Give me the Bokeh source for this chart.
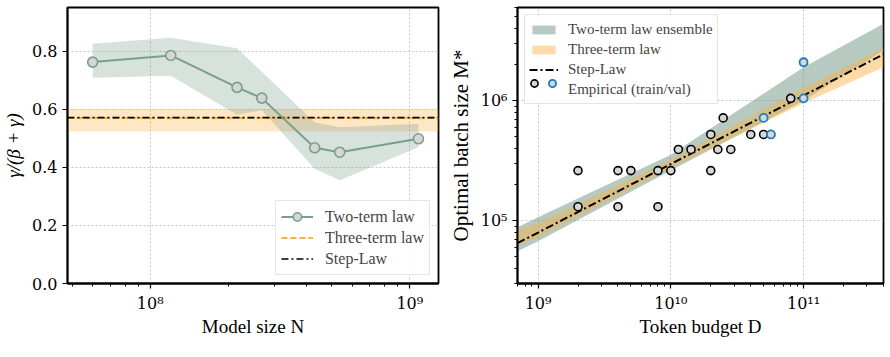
from bokeh.plotting import figure
from bokeh.layouts import row
from bokeh.models import (Range1d, FixedTicker, Legend, LegendItem,
                          CustomJSTickFormatter, PrintfTickFormatter)
from bokeh.embed import file_html
from bokeh.resources import INLINE

FONT = "Liberation Serif"
TICK_FONT = "DejaVu Serif"

# ---- left panel: exponent ratio vs model size ----
model_size = [6.0e7, 1.2e8, 2.16e8, 2.69e8, 4.3e8, 5.37e8, 1.08e9]
ratio_two_term = [0.762, 0.785, 0.675, 0.638, 0.467, 0.452, 0.498]
ratio_two_term_hi = [0.825, 0.846, 0.810, 0.729, 0.555, 0.538, 0.550]
ratio_two_term_lo = [0.708, 0.715, 0.581, 0.596, 0.395, 0.355, 0.469]
ratio_three_term = 0.570
ratio_three_term_hi = 0.601
ratio_three_term_lo = 0.523
ratio_step_law = 0.571
n_limits = [4.8e7, 1.29e9]

# ---- right panel: optimal batch size vs token budget ----
budget_train = [2e9, 2e9, 4e9, 4e9, 5e9, 8e9, 8e9, 1e10, 1.14e10, 1.42e10,
                2e10, 2e10, 2.26e10, 2.48e10, 2.83e10, 4e10, 5e10, 8e10]
batch_train = [262144, 131072, 262144, 131072, 262144, 262144, 131072, 262144,
               393216, 393216, 524288, 262144, 393216, 720896, 393216,
               524288, 524288, 1048576]
budget_val = [5e10, 5.68e10, 1e11, 1e11]
batch_val = [720896, 524288, 2097152, 1048576]

budget_grid = [7e8, 1e9, 1e10, 1e11, 4e11]
step_law_batch = [65200, 79800, 297200, 1107000, 2443000]
three_term_lo = [62400, 72400, 275400, 955000, 1905000]
three_term_hi = [84100, 95500, 323600, 1288000, 2754000]
two_term_lo = [55600, 67600, 263000, 1000000, 2630000]
two_term_hi = [88500, 107000, 355000, 1905000, 4395000]

SAGE = "#7a9e8e"
ORANGE = "#fbb040"
BLUE = "#1b7bc3"
GRAY_FILL = "#d6d6d6"

POW_FMT = CustomJSTickFormatter(code="""
    const sup = {"0":"\u2070","1":"\u00b9","2":"\u00b2","3":"\u00b3","4":"\u2074",
                 "5":"\u2075","6":"\u2076","7":"\u2077","8":"\u2078","9":"\u2079","-":"\u207b"};
    const e = Math.round(Math.log10(tick));
    return "10" + String(e).split("").map(c => sup[c]).join("");
""")


def decade_minors(lo_exp, hi_exp):
    return [k * 10.0 ** e for e in range(lo_exp, hi_exp + 1) for k in range(2, 10)]


def style(p):
    p.outline_line_color = "black"
    p.outline_line_width = 1.8
    p.background_fill_color = "white"
    p.border_fill_color = "white"
    for ax in p.xaxis + p.yaxis:
        ax.axis_line_color = "black"
        ax.axis_line_width = 1.8
        ax.major_tick_in = 0
        ax.major_tick_out = 5
        ax.minor_tick_in = 0
        ax.minor_tick_out = 3
        ax.major_tick_line_width = 1.2
        ax.minor_tick_line_width = 1.0
        ax.major_label_text_font = TICK_FONT
        ax.major_label_text_font_size = "16px"
        ax.major_label_text_color = "black"
        ax.axis_label_text_font = FONT
        ax.axis_label_text_font_size = "19px"
        ax.axis_label_text_font_style = "normal"
        ax.axis_label_text_color = "black"
    for ax in p.xaxis:
        ax.axis_label_standoff = 0
    for g in p.xgrid + p.ygrid:
        g.grid_line_color = "#b8b8b8"
        g.grid_line_dash = "2 2"
        g.grid_line_width = 0.8


# ---------------- left figure ----------------
p1 = figure(width=445, height=357, x_axis_type="log",
            x_range=Range1d(*n_limits), y_range=Range1d(0, 0.95),
            output_backend="svg", toolbar_location=None,
            min_border_left=64, min_border_right=7,
            min_border_top=7, min_border_bottom=74)
p1.xaxis.ticker = FixedTicker(ticks=[1e8, 1e9], minor_ticks=decade_minors(7, 9))
p1.xaxis.formatter = POW_FMT
p1.yaxis.ticker = FixedTicker(ticks=[0.0, 0.2, 0.4, 0.6, 0.8], minor_ticks=[])
p1.yaxis.formatter = PrintfTickFormatter(format="%.1f")
p1.xaxis.axis_label = "Model size N"
p1.yaxis.axis_label = "\u03b3/(\u03b2 + \u03b3)"
style(p1)
p1.yaxis.axis_label_text_font_style = "italic"

p1.varea(x=n_limits, y1=[ratio_three_term_lo] * 2, y2=[ratio_three_term_hi] * 2,
         fill_color=ORANGE, fill_alpha=0.3)
p1.varea(x=model_size, y1=ratio_two_term_lo, y2=ratio_two_term_hi,
         fill_color=SAGE, fill_alpha=0.3)
r_three = p1.line(n_limits, [ratio_three_term] * 2, line_color=ORANGE,
                  line_width=2, line_dash="6 3")
r_step = p1.line(n_limits, [ratio_step_law] * 2, line_color="black",
                 line_width=1.6, line_dash="7 3 2 3")
r_two_line = p1.line(model_size, ratio_two_term, line_color=SAGE, line_width=2)
r_two_pts = p1.scatter(model_size, ratio_two_term, size=10, fill_color=GRAY_FILL,
                       line_color=SAGE, line_width=1.6)

leg1 = Legend(items=[
    LegendItem(label="Two-term law", renderers=[r_two_line, r_two_pts]),
    LegendItem(label="Three-term law", renderers=[r_three]),
    LegendItem(label="Step-Law", renderers=[r_step]),
], location="bottom_right")
leg1.margin = 8
leg1.padding = 5
leg1.spacing = 0
leg1.glyph_width = 32
leg1.glyph_height = 21
leg1.label_height = 21
leg1.label_standoff = 12
leg1.label_text_font = FONT
leg1.label_text_font_size = "16px"
leg1.border_line_color = "#cccccc"
leg1.border_line_width = 1
leg1.background_fill_alpha = 0.85
p1.add_layout(leg1)

# ---------------- right figure ----------------
p2 = figure(width=445, height=357, x_axis_type="log", y_axis_type="log",
            x_range=Range1d(7e8, 4e11), y_range=Range1d(3e4, 6e6),
            output_backend="svg", toolbar_location=None,
            min_border_left=72, min_border_right=7,
            min_border_top=7, min_border_bottom=74)
p2.xaxis.ticker = FixedTicker(ticks=[1e9, 1e10, 1e11], minor_ticks=decade_minors(8, 11))
p2.xaxis.formatter = POW_FMT
p2.yaxis.ticker = FixedTicker(ticks=[1e5, 1e6], minor_ticks=decade_minors(4, 6))
p2.yaxis.formatter = POW_FMT
p2.xaxis.axis_label = "Token budget D"
p2.yaxis.axis_label = "Optimal batch size M*"
style(p2)
p2.yaxis.axis_label_text_font_size = "21px"

r_green = p2.varea(x=budget_grid, y1=two_term_lo, y2=two_term_hi,
                   fill_color=SAGE, fill_alpha=0.55)
r_orange = p2.varea(x=budget_grid, y1=three_term_lo, y2=three_term_hi,
                    fill_color=ORANGE, fill_alpha=0.45)
r_step2 = p2.line(budget_grid, step_law_batch, line_color="black",
                  line_width=2, line_dash="8 3 2 3")
r_train = p2.scatter(budget_train, batch_train, size=8, fill_color=GRAY_FILL,
                     line_color="black", line_width=1.6)
r_val = p2.scatter(budget_val, batch_val, size=8, fill_color=GRAY_FILL,
                   line_color=BLUE, line_width=1.8)
r_blank = p2.scatter(x=[], y=[], size=1, fill_alpha=0, line_alpha=0)

leg2 = Legend(items=[
    LegendItem(label="Two-term law ensemble", renderers=[r_green]),
    LegendItem(label="Three-term law", renderers=[r_orange]),
    LegendItem(label="Step-Law", renderers=[r_step2]),
    LegendItem(label="Empirical (train/val)", renderers=[r_blank]),
], location="top_left")
leg2.margin = 7
leg2.padding = 4
leg2.spacing = 0
leg2.glyph_width = 29
leg2.glyph_height = 11
leg2.label_height = 20
leg2.label_standoff = 10
leg2.label_text_font = FONT
leg2.label_text_font_size = "15px"
leg2.border_line_color = "#cccccc"
leg2.border_line_width = 1
leg2.background_fill_alpha = 0.85
p2.add_layout(leg2)

# the two marker swatches of the "Empirical" entry, side by side
leg3 = Legend(items=[
    LegendItem(label=" ", renderers=[r_train]),
    LegendItem(label=" ", renderers=[r_val]),
], orientation="horizontal", location=(8, 190))
leg3.margin = 0
leg3.padding = 0
leg3.spacing = 0
leg3.glyph_width = 18
leg3.glyph_height = 20
leg3.label_height = 20
leg3.label_width = 0
leg3.label_standoff = 0
leg3.label_text_font_size = "1px"
leg3.border_line_color = None
leg3.background_fill_color = None
leg3.background_fill_alpha = 0
p2.add_layout(leg3)

layout = row(p1, p2)
open("out.html", "w").write(file_html(layout, INLINE))
